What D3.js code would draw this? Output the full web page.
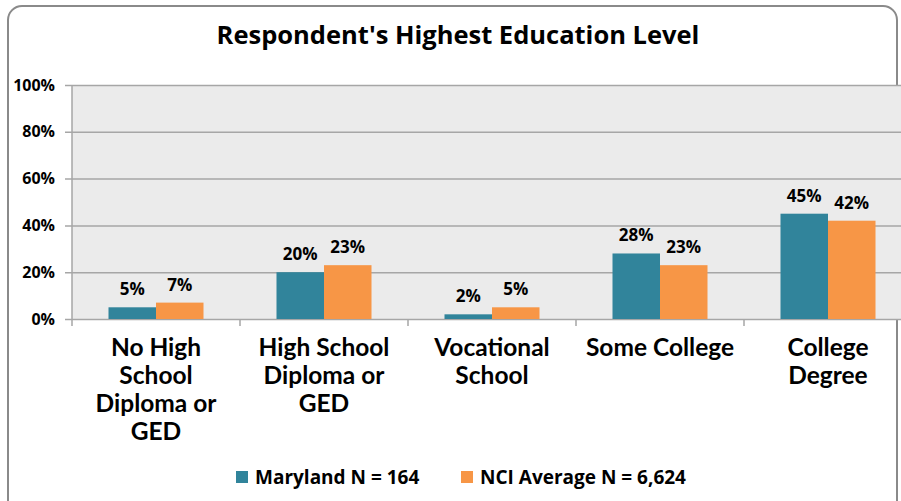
<!DOCTYPE html>
<html>
<head>
<meta charset="utf-8">
<script src="https://cdn.jsdelivr.net/npm/d3@7"></script>
<style>
  body { margin: 0; background: #fff; }
  svg { display: block; }
</style>
</head>
<body>
<div id="chart"></div>
<script>
// chart data
var categories = [
  ["No High", "School", "Diploma or", "GED"],
  ["High School", "Diploma or", "GED"],
  ["Vocational", "School"],
  ["Some College"],
  ["College", "Degree"]
];
var seriesNames = ["Maryland N = 164", "NCI Average N = 6,624"];
var maryland = [5, 20, 2, 28, 45];
var nciAverage = [7, 23, 5, 23, 42];
var yTicks = [0, 20, 40, 60, 80, 100];

var colors = ["#31849B", "#F79646"];

var svgWidth = 901, svgHeight = 501;
var margin = {top: 85, left: 72, right: -11, bottom: 182};
var width = svgWidth - margin.left - margin.right,
    height = svgHeight - margin.top - margin.bottom;

var svg = d3.select("#chart").append("svg")
    .attr("width", svgWidth)
    .attr("height", svgHeight);

// outer rounded frame
svg.append("rect")
    .attr("x", 8).attr("y", 6)
    .attr("width", 889).attr("height", 520)
    .attr("rx", 14)
    .attr("fill", "#fff")
    .attr("stroke", "#8a8a8a")
    .attr("stroke-width", 2);

svg.append("text")
    .attr("x", 458).attr("y", 44)
    .attr("text-anchor", "middle")
    .style("font-family", "'Open Sans', sans-serif")
    .style("font-weight", "bold")
    .style("font-size", "25.5px")
    .text("Respondent's Highest Education Level");

var plot = svg.append("g")
    .attr("transform", "translate(" + margin.left + "," + margin.top + ")");

var x = d3.scaleBand()
    .domain(d3.range(categories.length))
    .range([0, width]);

var inner = d3.scaleBand()
    .domain([0, 1])
    .range([0, 95])
    ;

var y = d3.scaleLinear()
    .domain([0, 100])
    .range([height, 0]);

plot.append("rect")
    .attr("width", width).attr("height", height)
    .attr("fill", "#EBEBEB");

// gridlines + y axis
var yAxis = plot.append("g")
    .call(d3.axisLeft(y)
      .tickValues(yTicks)
      .tickSize(-width)
      .tickFormat(function(d) { return d + "%"; }));
yAxis.select(".domain").remove();
yAxis.selectAll(".tick line")
    .attr("x1", -7)
    .attr("stroke", "#a6a6a6")
    .attr("stroke-width", 1.5);
yAxis.selectAll(".tick text")
    .attr("x", -17)
    .style("font-family", "'Open Sans', sans-serif")
    .style("font-weight", "bold")
    .style("font-size", "16px")
    .attr("fill", "#000");

plot.append("line")
    .attr("x1", 0).attr("x2", 0)
    .attr("y1", 0).attr("y2", height)
    .attr("stroke", "#a6a6a6").attr("stroke-width", 1.5);

// x axis ticks at band edges
var xAxis = plot.append("g")
    .attr("transform", "translate(0," + height + ")");
xAxis.selectAll("line.sep")
    .data(d3.range(categories.length + 1))
    .enter().append("line")
    .attr("x1", function(i) { return i * x.step(); })
    .attr("x2", function(i) { return i * x.step(); })
    .attr("y1", 0).attr("y2", 7)
    .attr("stroke", "#a6a6a6").attr("stroke-width", 1.5);

var data = [maryland, nciAverage];

data.forEach(function(values, s) {
  var g = plot.append("g");
  g.selectAll("rect")
    .data(values)
    .enter().append("rect")
    .attr("x", function(d, i) { return x(i) + (x.bandwidth() - 95) / 2 + inner(s); })
    .attr("width", inner.bandwidth())
    .attr("y", function(d) { return y(d); })
    .attr("height", function(d) { return height - y(d); })
    .attr("fill", colors[s]);
  g.selectAll("text")
    .data(values)
    .enter().append("text")
    .attr("x", function(d, i) { return x(i) + (x.bandwidth() - 95) / 2 + inner(s) + inner.bandwidth() / 2; })
    .attr("y", function(d) { return y(d) - 12; })
    .attr("text-anchor", "middle")
    .style("font-family", "'Open Sans', sans-serif")
    .style("font-weight", "bold")
    .style("font-size", "17px")
    .text(function(d) { return d + "%"; });
});

// category labels
var labels = plot.append("g")
  .attr("transform", "translate(0," + height + ")");
categories.forEach(function(lines, i) {
  var t = labels.append("text")
    .attr("text-anchor", "middle")
    .style("font-family", "Lato, sans-serif")
    .style("font-weight", "bold")
    .style("font-size", "24.5px");
  lines.forEach(function(line, k) {
    t.append("tspan")
      .attr("x", x(i) + x.bandwidth() / 2)
      .attr("y", 37 + k * 28)
      .text(line);
  });
});

// legend
var legendX = [236, 461];
var legend = svg.append("g");
seriesNames.forEach(function(name, s) {
  legend.append("rect")
    .attr("x", legendX[s]).attr("y", 471)
    .attr("width", 12).attr("height", 12)
    .attr("fill", colors[s]);
  legend.append("text")
    .attr("x", legendX[s] + 19).attr("y", 484)
    .style("font-family", "'Open Sans', sans-serif")
    .style("font-weight", "bold")
    .style("font-size", "19px")
    .text(name);
});
</script>
</body>
</html>
